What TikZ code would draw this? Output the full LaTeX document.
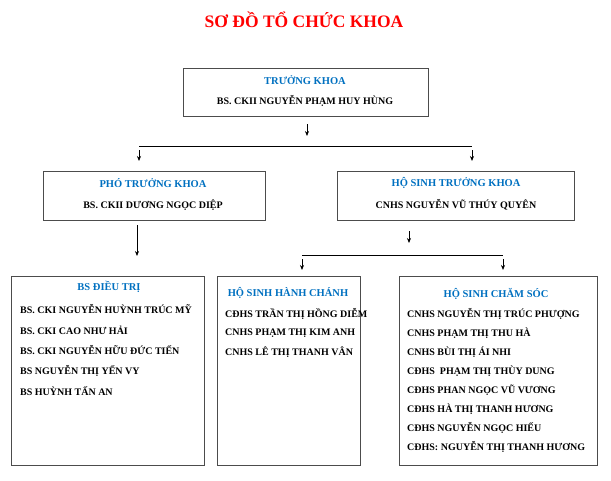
\documentclass[tikz,border=0pt]{standalone}
\usepackage{fontspec}
\setmainfont{Liberation Serif}
\usetikzlibrary{arrows.meta}
\definecolor{hdblue}{RGB}{0,112,192}
\tikzset{
  box/.style={draw=black!70, line width=0.6pt},
  head/.style={font=\bfseries\fontsize{10.5}{11}\selectfont, text=hdblue},
  member/.style={font=\bfseries\fontsize{10}{11}\selectfont, anchor=west, inner sep=0pt},
  dn/.style={-{Stealth[length=5pt,width=4pt]}, line width=0.7pt}
}
\begin{document}
\begin{tikzpicture}[x=1pt,y=-1pt]
  \useasboundingbox (0,0) rectangle (611,480);
  \node (title) at (304,20) {\bfseries\fontsize{17.5}{18}\selectfont\color{red}SƠ ĐỒ TỔ CHỨC KHOA};

  % boxes
  \draw[box] (183,68) rectangle (428,116);
  \node[head] (tk) at (305,80) {TRƯỞNG KHOA};
  \node[member,anchor=center] (tkn) at (305,101) {BS. CKII NGUYỄN PHẠM HUY HÙNG};

  \draw[box] (43,171) rectangle (265,220);
  \node[head] (ptk) at (153,183) {PHÓ TRƯỞNG KHOA};
  \node[member,anchor=center] (ptkn) at (153,205) {BS. CKII DƯƠNG NGỌC DIỆP};

  \draw[box] (337,171) rectangle (574,220);
  \node[head] (hstk) at (456,183) {HỘ SINH TRƯỞNG KHOA};
  \node[member,anchor=center] (hstkn) at (456,205) {CNHS NGUYỄN VŨ THÚY QUYÊN};

  \draw[box] (11,276) rectangle (204,465);
  \node[head] (bs) at (109,287) {BS ĐIỀU TRỊ};
  \draw[box] (217,276) rectangle (360,465);
  \node[head] (hc) at (288,293) {HỘ SINH HÀNH CHÁNH};
  \draw[box] (399,276) rectangle (597,465);
  \node[head] (cs) at (496,294) {HỘ SINH CHĂM SÓC};

  % connectors
  \coordinate (a1) at (307,124); \coordinate (a2) at (307,136);
  \coordinate (l1) at (139,146); \coordinate (l2) at (472,146);
  \coordinate (b1) at (139,150); \coordinate (b2) at (139,161);
  \coordinate (c1) at (472,150); \coordinate (c2) at (472,161);
  \draw[dn] (a1) -- (a2);
  \draw[line width=0.6pt] (l1) -- (l2);
  \draw[dn] (b1) -- (b2);
  \draw[dn] (c1) -- (c2);
  \coordinate (d1) at (137,225); \coordinate (d2) at (137,256);
  \draw[dn] (d1) -- (d2);
  \coordinate (e1) at (409,231); \coordinate (e2) at (409,243);
  \coordinate (m1) at (302,255); \coordinate (m2) at (503,255);
  \coordinate (f1) at (302,259); \coordinate (f2) at (302,270);
  \coordinate (g1) at (503,259); \coordinate (g2) at (503,270);
  \draw[dn] (e1) -- (e2);
  \draw[line width=0.6pt] (m1) -- (m2);
  \draw[dn] (f1) -- (f2);
  \draw[dn] (g1) -- (g2);

  % names
  \foreach \t [count=\i] in {BS. CKI NGUYỄN HUỲNH TRÚC MỸ, BS. CKI CAO NHƯ HẢI,
      BS. CKI NGUYỄN HỮU ĐỨC TIẾN, BS NGUYỄN THỊ YẾN VY, BS HUỲNH TẤN AN}
    \node[member] (bs\i) at (20,{289+20.5*\i}) {\t};
  \foreach \t [count=\i] in {CĐHS TRẦN THỊ HỒNG DIỄM, CNHS PHẠM THỊ KIM ANH, CNHS LÊ THỊ THANH VÂN}
    \node[member] (hc\i) at (225,{294+19.5*\i}) {\t};
  \foreach \t [count=\i] in {CNHS NGUYỄN THỊ TRÚC PHƯỢNG, CNHS PHẠM THỊ THU HÀ, CNHS BÙI THỊ ÁI NHI,
      CĐHS\ \ PHẠM THỊ THÙY DUNG, CĐHS PHAN NGỌC VŨ VƯƠNG, CĐHS HÀ THỊ THANH HƯƠNG,
      CĐHS NGUYỄN NGỌC HIẾU, CĐHS: NGUYỄN THỊ THANH HƯƠNG}
    \node[member] (cs\i) at (407,{295+19*\i}) {\t};
\end{tikzpicture}
\end{document}
